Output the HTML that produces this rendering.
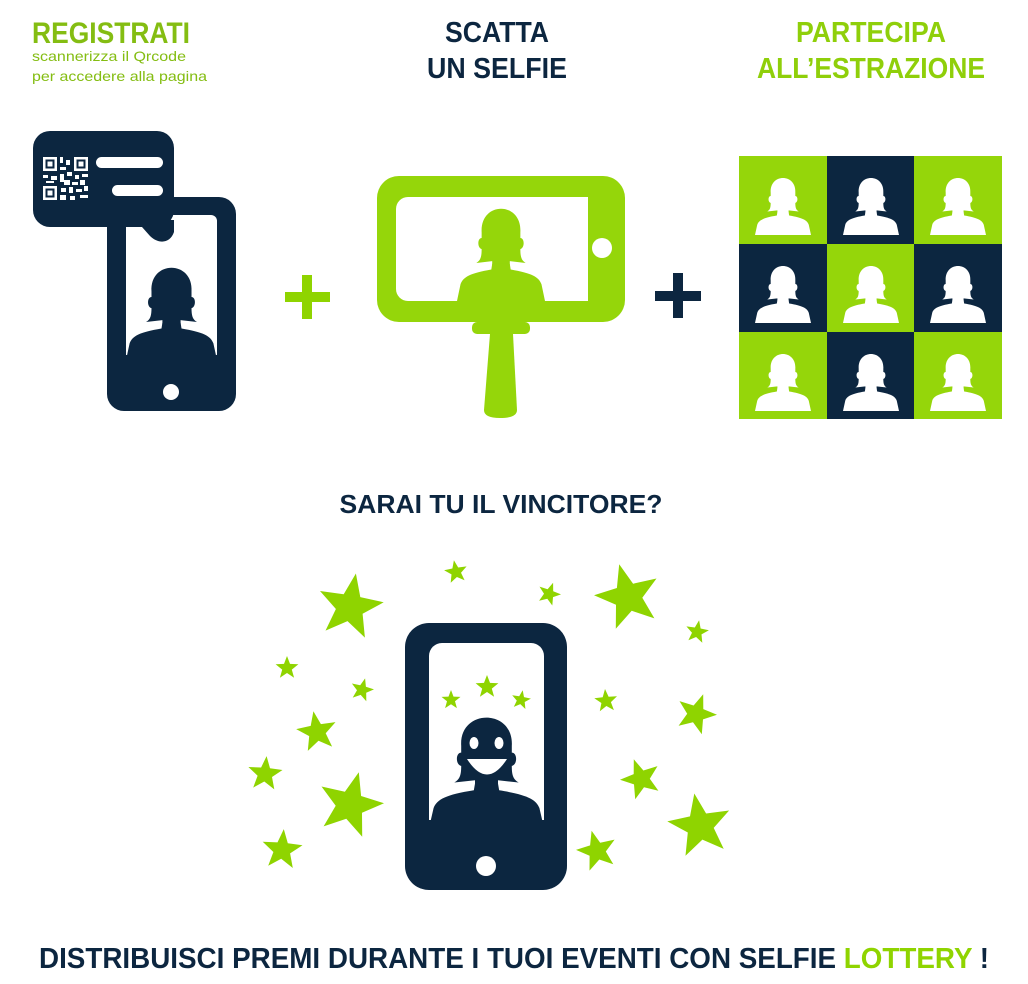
<!DOCTYPE html>
<html><head><meta charset="utf-8"><style>
html,body{margin:0;padding:0;background:#fff;}
svg{display:block;}
text{font-family:"Liberation Sans",sans-serif;font-weight:bold;}
</style></head><body>
<svg id="s" width="1028" height="984" viewBox="0 0 1028 984" xmlns="http://www.w3.org/2000/svg">
<defs>
<symbol id="p" viewBox="0 0 100 110" preserveAspectRatio="none">
<path d="M28,36 C26,2 74,2 72,36 L72,42 C77,42 77,53 72,54 C72,62 73,66 78,69 L60,67 L60,72 L40,72 L40,67 L22,69 C27,66 28,62 28,54 C23,53 23,42 28,42 Z"/>
<path d="M40,70 L60,70 L61,76 C85,80 93,84 96,92 L100,110 L0,110 L4,92 C7,84 15,80 39,76 Z"/>
</symbol>
</defs>
<text x="32" y="43" font-size="30" fill="#84bd12" textLength="158" lengthAdjust="spacingAndGlyphs">REGISTRATI</text>
<text x="32" y="61" font-size="14" style="font-weight:normal" fill="#84bd12" textLength="154" lengthAdjust="spacingAndGlyphs">scannerizza il Qrcode</text>
<text x="32" y="81" font-size="14" style="font-weight:normal" fill="#84bd12" textLength="175" lengthAdjust="spacingAndGlyphs">per accedere alla pagina</text>
<text x="497" y="42" font-size="29" fill="#0c2640" text-anchor="middle" textLength="104" lengthAdjust="spacingAndGlyphs">SCATTA</text>
<text x="497" y="78" font-size="29" fill="#0c2640" text-anchor="middle" textLength="140" lengthAdjust="spacingAndGlyphs">UN SELFIE</text>
<text x="871" y="42" font-size="29" fill="#8fcf0a" text-anchor="middle" textLength="150" lengthAdjust="spacingAndGlyphs">PARTECIPA</text>
<text x="871" y="78" font-size="29" fill="#8fcf0a" text-anchor="middle" textLength="228" lengthAdjust="spacingAndGlyphs">ALL’ESTRAZIONE</text>

<rect x="107" y="197" width="129" height="214" rx="17" fill="#0c2640"/>
<rect x="126" y="215" width="91" height="145" rx="6" fill="#fff"/>
<use href="#p" x="126" y="258" width="91" height="102" fill="#0c2640"/>
<rect x="118" y="355" width="110" height="10" fill="#0c2640"/>
<circle cx="171" cy="392" r="8" fill="#fff"/>
<rect x="33" y="131" width="141" height="96" rx="17" fill="#0c2640"/>
<path d="M126,220 L174,220 L174,232 C170,244 158,244 150,236 L142,227 L126,227 Z" fill="#0c2640"/>
<rect x="96" y="157" width="67" height="11" rx="5.5" fill="#fff"/>
<rect x="112" y="185" width="51" height="11" rx="5.5" fill="#fff"/>
<g fill="#fff">
<rect x="43" y="157" width="14" height="14"/><rect x="74" y="157" width="14" height="14"/><rect x="43" y="186" width="14" height="14"/>
</g>
<g fill="#0c2640"><rect x="45.5" y="159.5" width="9" height="9"/><rect x="76.5" y="159.5" width="9" height="9"/><rect x="45.5" y="188.5" width="9" height="9"/></g>
<g fill="#fff"><rect x="47.5" y="161.5" width="5" height="5"/><rect x="78.5" y="161.5" width="5" height="5"/><rect x="47.5" y="190.5" width="5" height="5"/>
<rect x="60" y="157" width="3" height="6"/><rect x="66" y="160" width="4" height="5"/><rect x="60" y="167" width="6" height="3"/><rect x="43" y="175" width="5" height="3"/><rect x="51" y="176" width="6" height="4"/><rect x="60" y="174" width="4" height="8"/><rect x="67" y="172" width="5" height="4"/><rect x="75" y="175" width="4" height="4"/><rect x="82" y="174" width="6" height="3"/><rect x="46" y="181" width="8" height="2"/><rect x="64" y="180" width="6" height="5"/><rect x="72" y="182" width="6" height="3"/><rect x="80" y="180" width="5" height="5"/><rect x="61" y="188" width="5" height="4"/><rect x="69" y="187" width="4" height="6"/><rect x="76" y="189" width="6" height="3"/><rect x="84" y="186" width="4" height="5"/><rect x="60" y="195" width="6" height="5"/><rect x="70" y="196" width="5" height="4"/><rect x="80" y="195" width="8" height="3"/>
</g>

<rect x="285" y="292" width="45" height="10" fill="#8fd400"/><rect x="302" y="275" width="10" height="44" fill="#8fd400"/>
<rect x="655" y="291" width="46" height="10" fill="#0c2640"/><rect x="673" y="273" width="10" height="45" fill="#0c2640"/>

<rect x="377" y="176" width="248" height="146" rx="22" fill="#95d60a"/>
<rect x="396" y="197" width="192" height="104" rx="12" fill="#fff"/>
<rect x="560" y="197" width="28" height="104" fill="#fff"/>
<circle cx="602" cy="248" r="10" fill="#fff"/>
<use href="#p" x="457" y="199" width="88" height="102" fill="#95d60a"/>
<rect x="472" y="322" width="58" height="12" rx="5" fill="#95d60a"/>
<path d="M490,334 L513,334 L517,410 Q517,418 500,418 Q484,418 484,410 Z" fill="#95d60a"/>

<g id="grid"></g>

<text x="501" y="513" font-size="26" fill="#0c2640" text-anchor="middle" textLength="323" lengthAdjust="spacingAndGlyphs">SARAI TU IL VINCITORE?</text>

<rect x="405" y="623" width="162" height="267" rx="24" fill="#0c2640"/>
<rect x="429" y="643" width="115" height="190" rx="13" fill="#fff"/>
<use href="#p" x="429" y="706" width="115" height="122" fill="#0c2640"/>
<rect x="420" y="820" width="135" height="14" fill="#0c2640"/>
<ellipse cx="474" cy="743" rx="4.5" ry="6" fill="#fff"/>
<ellipse cx="499" cy="743" rx="4.5" ry="6" fill="#fff"/>
<path d="M467,759 Q487,790 507,759 Z" fill="#fff"/>
<circle cx="486" cy="866" r="10" fill="#fff"/>
<g id="stars" fill="#8fd400"></g>

<text x="514" y="968" font-size="29" fill="#0c2640" text-anchor="middle" textLength="950" lengthAdjust="spacingAndGlyphs">DISTRIBUISCI PREMI DURANTE I TUOI EVENTI CON SELFIE <tspan fill="#8fd400">LOTTERY</tspan> !</text>
</svg>
<script>
var NS="http://www.w3.org/2000/svg";
var g=document.getElementById("grid");
var xs=[739,827,914],ys=[156,244,332];
for(var r=0;r<3;r++)for(var c=0;c<3;c++){
 var green=(r+c)%2==0;
 var re=document.createElementNS(NS,"rect");
 re.setAttribute("x",xs[c]);re.setAttribute("y",ys[r]);re.setAttribute("width",88);re.setAttribute("height",r==2?87:88);
 re.setAttribute("fill",green?"#95d60a":"#0c2640");g.appendChild(re);
 var u=document.createElementNS(NS,"use");
 u.setAttribute("href","#p");u.setAttribute("x",xs[c]+16);u.setAttribute("y",ys[r]+16);
 u.setAttribute("width",56);u.setAttribute("height",63);u.setAttribute("fill","#fff");g.appendChild(u);
}
var st=[[350,607,34,10],[456,572,12,-10],[549,594,12,20],[628,597,34,-15],[697,632,12,10],[287,668,12,0],[362,690,12,15],[606,701,12,-5],[696,714,21,20],[317,732,21,-10],[265,774,18,5],[641,779,21,-20],[350,805,34,15],[700,826,33,-10],[282,850,21,5],[597,851,21,-15],[451,700,10,0],[487,687,12,0],[521,700,10,10]];
var sg=document.getElementById("stars");
st.forEach(function(s){
 var pts=[];
 for(var i=0;i<10;i++){var a=(s[3]-90+i*36)*Math.PI/180;var rr=i%2?s[2]*0.42:s[2];pts.push((s[0]+rr*Math.cos(a)).toFixed(1)+","+(s[1]+rr*Math.sin(a)).toFixed(1));}
 var p=document.createElementNS(NS,"polygon");p.setAttribute("points",pts.join(" "));sg.appendChild(p);
});
</script>
</body></html>
